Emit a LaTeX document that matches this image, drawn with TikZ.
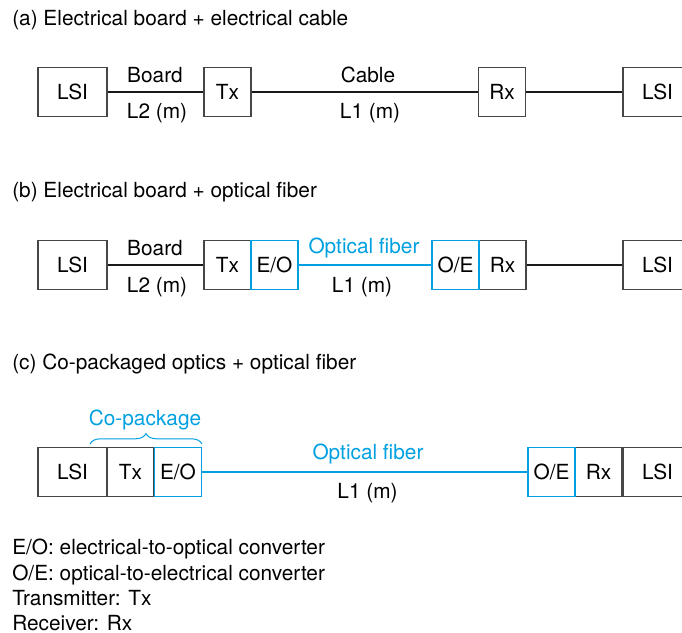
\documentclass[tikz,border=0pt]{standalone}
\usepackage{fontspec}
\setmainfont{TeX Gyre Heros}
\usepackage{xcolor}
\definecolor{boxgray}{RGB}{70,70,70}
\definecolor{wireblack}{RGB}{25,25,25}
\definecolor{fiberblue}{RGB}{0,160,225}
\usepackage{tikz}
\usetikzlibrary{decorations.pathreplacing}

\begin{document}
\begin{tikzpicture}[
  x=0.025cm, y=-0.025cm,
  blk/.style={
    rectangle, draw=boxgray, line width=0.9pt,
    minimum height=1.225cm, inner sep=0pt,
    font=\fontsize{14.8}{17}\selectfont
  },
  lsi/.style={blk, minimum width=1.725cm},
  unit/.style={blk, minimum width=1.175cm},
  conv/.style={unit, draw=fiberblue},
  lbl/.style={inner sep=0pt, font=\fontsize{14.8}{17}\selectfont},
  lblop/.style={lbl, text=fiberblue},
  ttl/.style={anchor=west, inner sep=0pt, font=\fontsize{14.8}{17}\selectfont},
  wire/.style={line width=1.4pt, color=wireblack},
  fiber/.style={line width=1.4pt, color=fiberblue},
  brc/.style={decorate, decoration={brace, amplitude=0.26cm}, line width=0.7pt, color=fiberblue},
]
\useasboundingbox (0,0) rectangle (682,632);
\clip (0,0) rectangle (682,632);

%% (a) placa + cable
\node[ttl]  (ttla)  at (12,20)    {(a) Electrical board + electrical cable};
\node[lsi]  (lsia)  at (72.5,92)  {LSI};
\node[unit] (txa)   at (227.5,92) {Tx};
\node[unit] (rxa)   at (502,92)   {Rx};
\node[lsi]  (lsia2) at (657.5,92) {LSI};

\node[lbl] (boarda) at (155,75)  {Board};
\node[lbl] (l2a)    at (157,113) {L2 (m)};
\node[lbl] (cablea) at (368,75)  {Cable};
\node[lbl] (l1a)    at (370,113) {L1 (m)};

\draw[wire] (lsia) -- (txa);
\draw[wire] (txa)  -- (rxa);
\draw[wire] (rxa)  -- (lsia2);

%% (b) placa + fibra
\node[ttl]  (ttlb)  at (12,192)    {(b) Electrical board + optical fiber};
\node[lsi]  (lsib)  at (72.5,265)  {LSI};
\node[unit] (txb)   at (227.5,265) {Tx};
\node[unit] (rxb)   at (502.5,265) {Rx};
\node[lsi]  (lsib2) at (657.5,265) {LSI};
\node[conv] (eob)   at (274.5,265) {E/O};
\node[conv] (oeb)   at (455.5,265) {O/E};

\node[lbl]   (boardb) at (155,248) {Board};
\node[lbl]   (l2b)    at (157,287) {L2 (m)};
\node[lblop] (fibb)   at (364,248) {Optical fiber};
\node[lbl]   (l1b)    at (362,287) {L1 (m)};

\draw[wire]  (lsib) -- (txb);
\draw[fiber] (eob)  -- (oeb);
\draw[wire]  (rxb)  -- (lsib2);

%% (c) co-package + fibra
\node[ttl]  (ttlc)  at (12,364)    {(c) Co-packaged optics + optical fiber};
\node[lsi]  (lsic)  at (72.5,472)  {LSI};
\node[unit] (txc)   at (130.5,472) {Tx};
\node[unit] (rxc)   at (598.5,472) {Rx};
\node[lsi]  (lsic2) at (657.5,472) {LSI};
\node[conv] (eoc)   at (178,472)   {E/O};
\node[conv] (oec)   at (551.5,472) {O/E};

\node[lblop] (cpkg) at (145,420)   {Co-package};
\node[lblop] (fibc) at (368,454)   {Optical fiber};
\node[lbl]   (l1c)  at (367.5,493) {L1 (m)};

\draw[fiber] (eoc) -- (oec);

\coordinate (cpl) at (90,444);
\coordinate (cpr) at (202,444);
\draw[brc] (cpl) -- (cpr);

%% Leyenda
\node[anchor=north west, align=left, inner sep=0pt,
      font=\fontsize{14.8}{18}\selectfont] (leyenda) at (12,539)
  {E/O: electrical-to-optical converter\\
   O/E: optical-to-electrical converter\\
   Transmitter: Tx\\
   Receiver: Rx};

\end{tikzpicture}
\end{document}
